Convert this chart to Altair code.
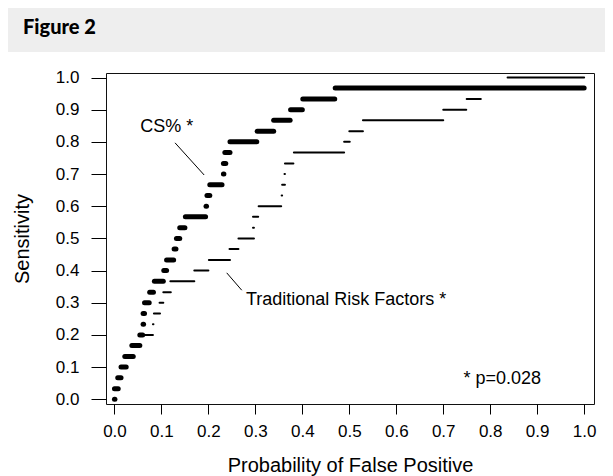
import altair as alt
import pandas as pd

# Sensitivity levels (steps of the ROC curves)
sens_levels = [0.000, 0.033, 0.067, 0.100, 0.133, 0.167, 0.200, 0.233, 0.267, 0.300,
               0.333, 0.367, 0.400, 0.433, 0.467, 0.500, 0.533, 0.567, 0.600, 0.633,
               0.667, 0.700, 0.733, 0.767, 0.800, 0.833, 0.867, 0.900, 0.933, 0.967,
               1.000]

# CS% curve: horizontal segments (false-positive start / end) at sens_levels[0..29]
cs_fpr_start = [0.000, 0.000, 0.007, 0.014, 0.022, 0.037, 0.054, 0.061, 0.061, 0.064,
                0.075, 0.085, 0.105, 0.111, 0.127, 0.132, 0.139, 0.151, 0.195, 0.197,
                0.203, 0.232, 0.232, 0.235, 0.246, 0.304, 0.339, 0.375, 0.401, 0.470]
cs_fpr_end = [0.001, 0.008, 0.014, 0.025, 0.040, 0.054, 0.060, 0.062, 0.064, 0.074,
              0.083, 0.104, 0.111, 0.126, 0.131, 0.139, 0.150, 0.194, 0.196, 0.203,
              0.229, 0.233, 0.237, 0.246, 0.303, 0.339, 0.374, 0.400, 0.469, 1.000]

# Traditional risk factors curve at sens_levels[0..30]
trad_fpr_start = [0.000, 0.000, 0.008, 0.014, 0.024, 0.040, 0.052, 0.082, 0.084, 0.096,
                  0.104, 0.119, 0.170, 0.201, 0.245, 0.264, 0.295, 0.295, 0.307, 0.356,
                  0.357, 0.362, 0.363, 0.382, 0.489, 0.500, 0.529, 0.700, 0.750, 0.780,
                  0.837]
trad_fpr_end = [0.001, 0.006, 0.012, 0.022, 0.038, 0.050, 0.082, 0.083, 0.097, 0.104,
                0.120, 0.170, 0.200, 0.246, 0.264, 0.297, 0.297, 0.306, 0.355, 0.357,
                0.363, 0.363, 0.381, 0.489, 0.501, 0.529, 0.700, 0.749, 0.780, 0.835,
                1.000]

tick_values = [0.0, 0.1, 0.2, 0.3, 0.4, 0.5, 0.6, 0.7, 0.8, 0.9, 1.0]

label_text = ["CS% *", "Traditional Risk Factors *", "* p=0.028"]
label_x = [0.055, 0.280, 0.743]
label_y = [0.846, 0.310, 0.063]

leader_x = [0.129, 0.239]
leader_y = [0.797, 0.393]
leader_x2 = [0.191, 0.271]
leader_y2 = [0.697, 0.339]

FONT = "Liberation Sans"

cs_df = pd.DataFrame({"x1": cs_fpr_start, "x2": cs_fpr_end, "y": sens_levels[:30]})
trad_df = pd.DataFrame({"x1": trad_fpr_start, "x2": trad_fpr_end, "y": sens_levels})
lab_df = pd.DataFrame({"t": label_text, "x": label_x, "y": label_y})
lead_df = pd.DataFrame({"x": leader_x, "y": leader_y, "x2": leader_x2, "y2": leader_y2})

xscale = alt.Scale(domain=[-0.018, 1.021], nice=False, zero=False)
yscale = alt.Scale(domain=[-0.0146, 1.014], nice=False, zero=False)

xaxis = alt.Axis(values=tick_values, format=".1f", title="Probability of False Positive",
                 grid=False, domain=False, tickSize=10, tickColor="black", tickWidth=1,
                 labelFont=FONT, labelFontSize=17, labelColor="black", labelPadding=9,
                 titleFont=FONT, titleFontSize=20, titleFontWeight="normal",
                 titleColor="black", titleBaseline="middle", titleY=61)
yaxis = alt.Axis(values=tick_values, format=".1f", title="Sensitivity",
                 grid=False, domain=False, tickSize=15, tickColor="black", tickWidth=1,
                 labelFont=FONT, labelFontSize=17, labelColor="black", labelPadding=12,
                 titleFont=FONT, titleFontSize=20, titleFontWeight="normal",
                 titleColor="black", titleBaseline="middle", titleX=-84, titleY=165.5,
                 titleAngle=270)

X = lambda f: alt.X(f, scale=xscale, axis=xaxis)
Y = lambda f: alt.Y(f, scale=yscale, axis=yaxis)

trad = alt.Chart(trad_df).mark_rule(color="black", strokeWidth=2, strokeCap="round").encode(
    x=X("x1:Q"), x2="x2:Q", y=Y("y:Q"),
)

cs = alt.Chart(cs_df).mark_rule(color="black", strokeWidth=5, strokeCap="round").encode(
    x=X("x1:Q"), x2="x2:Q", y=Y("y:Q"),
)

leaders = alt.Chart(lead_df).mark_rule(color="black", strokeWidth=1).encode(
    x=X("x:Q"), y=Y("y:Q"), x2="x2:Q", y2="y2:Q",
)

labels = alt.Chart(lab_df).mark_text(font=FONT, fontSize=18, align="left",
                                     baseline="middle", color="black").encode(
    x=X("x:Q"), y=Y("y:Q"), text="t:N",
)

header_df = pd.DataFrame({"t": ["Figure 2"]})
band = alt.Chart(header_df).mark_rect(color="#eeeeee").encode(
    x=alt.value(-98), x2=alt.value(520), y=alt.value(-65), y2=alt.value(-21)
)
head_text = alt.Chart(header_df).mark_text(font="Lato", fontWeight=900, fontSize=20,
                                           align="left", baseline="middle",
                                           color="black").encode(
    x=alt.value(-83), y=alt.value(-45), text="t:N"
)

chart = alt.layer(trad, cs, leaders, labels, band, head_text).properties(
    width=488, height=331,
    autosize=alt.AutoSizeParams(type="none"),
    padding={"left": 98, "top": 65, "right": 11, "bottom": 72},
    background="white",
).configure_view(stroke="#111", strokeWidth=1)

chart.save("out.html", embed_options={"renderer": "svg", "actions": False})
